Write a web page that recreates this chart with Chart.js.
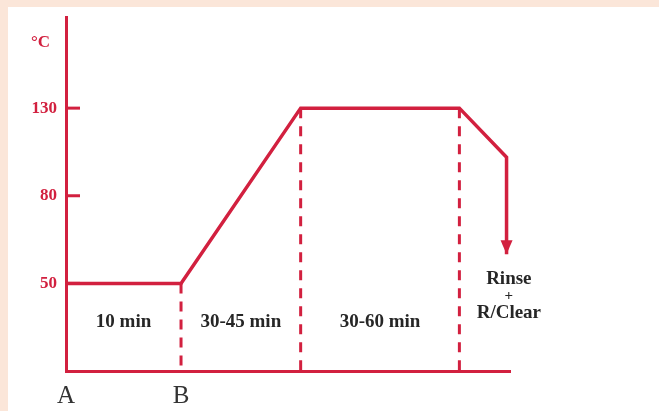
<!DOCTYPE html>
<html>
<head>
<meta charset="utf-8">
<script src="https://cdn.jsdelivr.net/npm/chart.js@4.4.1/dist/chart.umd.min.js"></script>
<style>
  html, body { margin: 0; padding: 0; background: #fbe6d9; }
  #panel { position: absolute; left: 8px; top: 7px; right: 0; bottom: 0; background: #fff; }
  #wrap { position: absolute; left: 0; top: 0; width: 659px; height: 411px; }
</style>
</head>
<body>
<div id="panel"></div>
<div id="wrap"><canvas id="chart" width="659" height="411"></canvas></div>
<script>
// temperature profile (x in arbitrary time units, y in °C)
const profileX = [0, 10, 20.4, 34.2, 38.3, 38.3];
const profileTemp = [50, 50, 130, 130, 102, 60];

// stage boundaries (dashed verticals) and the temperature they start from
const stageX = [10, 20.4, 34.2];
const stageTemp = [50, 130, 130];

// stage labels
const stageLabels = ['10 min', '30-45 min', '30-60 min'];
const stageMid = [5, 15.2, 27.3];
const rinseLabel = ['Rinse', '+', 'R/Clear'];

// axis labels
const yTickTemps = [50, 80, 130];
const yUnit = '°C';
const xTickValues = [0, 10];
const xTickLabels = ['A', 'B'];

// the temperature axis is not linear: each labelled step gets the same height
const levelTemps = [0, 50, 80, 130];
function tempToLevel(t) {
  for (let i = 1; i < levelTemps.length; i++) {
    if (t <= levelTemps[i]) {
      const a = levelTemps[i - 1], b = levelTemps[i];
      return i - 1 + (t - a) / (b - a);
    }
  }
  return levelTemps.length - 1;
}

const RED = '#d2203f';
const TEXT = '#262626';

const profileData = profileX.map((x, i) => ({ x: x, y: tempToLevel(profileTemp[i]) }));
const dashSets = stageX.map((x, i) => ({
  data: [{ x: x, y: tempToLevel(stageTemp[i]) }, { x: x, y: 0 }],
  borderColor: RED,
  borderWidth: 3,
  borderDash: [10, 8],
  pointRadius: 0,
  fill: false,
}));

const unitLevel = 3.75;
const yTickLevels = yTickTemps.map(tempToLevel);

const extras = {
  id: 'extras',
  afterDraw(chart) {
    const ctx = chart.ctx;
    const xs = chart.scales.x, ys = chart.scales.y;
    ctx.save();
    // inward tick marks
    ctx.strokeStyle = RED;
    ctx.lineWidth = 3;
    yTickLevels.forEach(l => {
      const py = ys.getPixelForValue(l);
      ctx.beginPath();
      ctx.moveTo(xs.left, py);
      ctx.lineTo(xs.left + 14, py);
      ctx.stroke();
    });
    // unit label
    ctx.fillStyle = RED;
    ctx.font = 'bold 17px "Liberation Serif", serif';
    ctx.textAlign = 'right';
    ctx.textBaseline = 'middle';
    ctx.fillText(yUnit, xs.left - 16, ys.getPixelForValue(unitLevel));
    // arrow head at the end of the profile
    const last = profileData[profileData.length - 1];
    const ax = xs.getPixelForValue(last.x), ay = ys.getPixelForValue(last.y);
    ctx.beginPath();
    ctx.moveTo(ax, ay);
    ctx.lineTo(ax - 6, ay - 14);
    ctx.lineTo(ax + 6, ay - 14);
    ctx.closePath();
    ctx.fill();
    // stage labels
    ctx.fillStyle = TEXT;
    ctx.font = 'bold 19px "Liberation Serif", "DejaVu Serif", serif';
    ctx.textAlign = 'center';
    const labelY = ys.getPixelForValue(0.56);
    stageLabels.forEach((s, i) => {
      ctx.fillText(s, xs.getPixelForValue(stageMid[i]), labelY);
    });
    const rx = xs.getPixelForValue(38.5);
    const ry = ys.getPixelForValue(1.05);
    rinseLabel.forEach((s, i) => {
      ctx.font = (i === 1 ? 'bold 15px' : 'bold 19px') + ' "Liberation Serif", serif';
      ctx.fillText(s, rx, ry + i * 17);
    });
    ctx.restore();
  }
};

new Chart(document.getElementById('chart'), {
  type: 'line',
  data: {
    datasets: [{
      data: profileData,
      borderColor: RED,
      borderWidth: 3.5,
      pointRadius: 0,
      fill: false,
      tension: 0,
    }].concat(dashSets),
  },
  options: {
    responsive: false,
    animation: false,
    layout: { padding: { left: 0, top: 17, right: 149, bottom: 0 } },
    plugins: { legend: { display: false }, tooltip: { enabled: false } },
    scales: {
      x: {
        type: 'linear',
        min: 0,
        max: 38.6,
        grid: { display: false },
        border: { color: RED, width: 3 },
        afterBuildTicks: s => { s.ticks = xTickValues.map(v => ({ value: v })); },
        afterFit: s => { s.height = 40; },
        ticks: {
          autoSkip: false,
          maxRotation: 0,
          padding: 2,
          color: '#333',
          font: { family: '"Liberation Serif", serif', size: 25 },
          callback: (v, i) => xTickLabels[i],
        },
      },
      y: {
        type: 'linear',
        min: 0,
        max: 4.04,
        grid: { display: false },
        border: { color: RED, width: 3 },
        afterBuildTicks: s => { s.ticks = yTickLevels.map(v => ({ value: v })); },
        afterFit: s => { s.width = 66; },
        ticks: {
          autoSkip: false,
          padding: 1,
          color: RED,
          font: { family: '"Liberation Serif", serif', size: 17, weight: 'bold' },
          callback: (v, i) => String(yTickTemps[i]),
        },
      },
    },
  },
  plugins: [extras],
});
</script>
</body>
</html>
